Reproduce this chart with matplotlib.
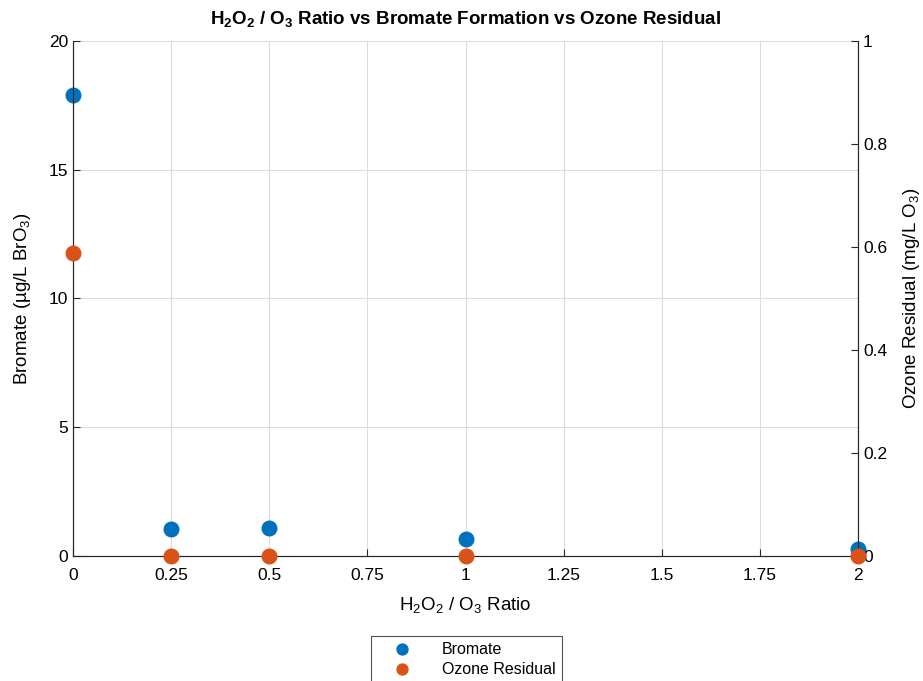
import matplotlib
matplotlib.use("Agg")
import matplotlib.pyplot as plt

plt.rcParams['font.family'] = ['Liberation Sans', 'DejaVu Sans']
plt.rcParams['mathtext.default'] = 'regular'

ratio = [0, 0.25, 0.5, 1, 2]
bromate = [17.9, 1.05, 1.09, 0.66, 0.27]
ozone = [0.588, 0.0, 0.0, 0.0, 0.0]
xticks = [0, 0.25, 0.5, 0.75, 1, 1.25, 1.5, 1.75, 2]
xticklabels = ['0', '0.25', '0.5', '0.75', '1', '1.25', '1.5', '1.75', '2']
yticks_left = [0, 5, 10, 15, 20]
yticks_right = [0, 0.2, 0.4, 0.6, 0.8, 1]
yticklabels_right = ['0', '0.2', '0.4', '0.6', '0.8', '1']

blue = '#0072BD'
orange = '#D95319'

fig = plt.figure(figsize=(9.23, 6.81), dpi=100)
ax = fig.add_axes([0.0791, 0.1836, 0.8505, 0.7562])
ax2 = ax.twinx()

l1, = ax.plot(ratio, bromate, 'o', color=blue, markersize=10.5, label='Bromate', clip_on=False, zorder=3)
l2, = ax2.plot(ratio, ozone, 'o', color=orange, markersize=10.5, label='Ozone Residual', clip_on=False, zorder=3)

ax.set_xlim(0, 2)
ax.set_ylim(0, 20)
ax2.set_ylim(0, 1)
ax.set_xticks(xticks)
ax.set_xticklabels(xticklabels)
ax.set_yticks(yticks_left)
ax2.set_yticks(yticks_right)
ax2.set_yticklabels(yticklabels_right)

ax.grid(True, color='#dcdcdc', linewidth=0.8)
ax.set_axisbelow(True)

for a in (ax, ax2):
    a.tick_params(direction='in', labelsize=12.5, length=5, color='#262626', labelcolor='black')
    for s in a.spines.values():
        s.set_color('#262626')
        s.set_linewidth(0.8)
    a.spines['top'].set_visible(False)
ax.tick_params(axis='x', pad=9)

ax.set_xlabel(r'H$_2$O$_2$ / O$_3$ Ratio', fontsize=13.5, labelpad=8)
ax.set_ylabel(r'Bromate (µg/L BrO$_3$)', fontsize=13.5, labelpad=11)
ax2.set_ylabel(r'Ozone Residual (mg/L O$_3$)', fontsize=13.5, labelpad=10)
ax.set_title(r'H$_2$O$_2$ / O$_3$ Ratio vs Bromate Formation vs Ozone Residual', fontsize=13.5, fontweight='bold', pad=12)

leg = fig.legend(handles=[l1, l2], loc='upper center', bbox_to_anchor=(0.5055, 0.066),
                 bbox_transform=fig.transFigure, fancybox=False, edgecolor='#262626',
                 fontsize=11.5, handletextpad=1.0, borderpad=0.4, labelspacing=0.3,
                 handlelength=3.0, markerscale=0.75, borderaxespad=0)
leg.get_frame().set_linewidth(0.8)

fig.savefig('out.png', dpi=100)
